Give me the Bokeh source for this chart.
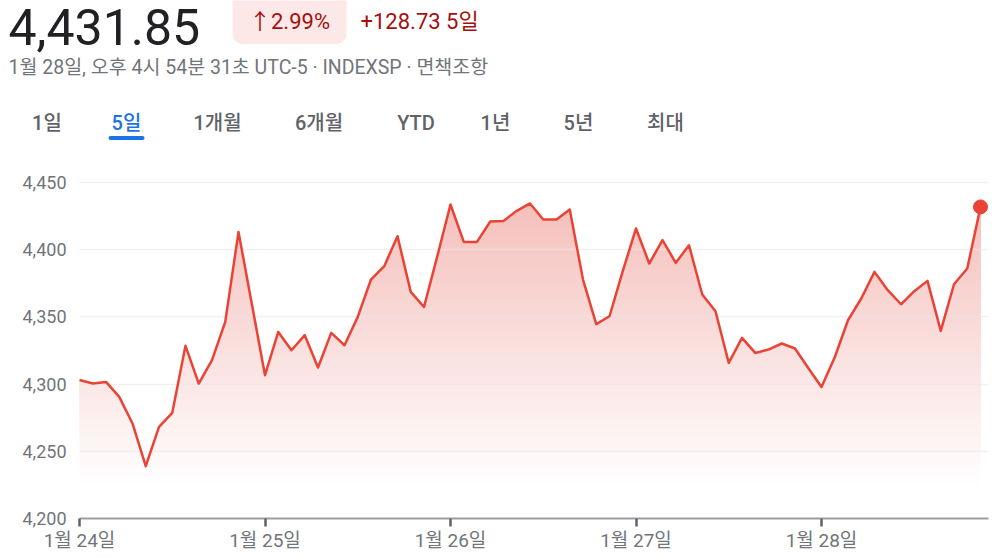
import numpy as np
from bokeh.plotting import figure
from bokeh.layouts import column
from bokeh.models import Range1d, FixedTicker, NumeralTickFormatter, Label, BoxAnnotation
from bokeh.embed import file_html
from bokeh.resources import INLINE

# ---------------- data ----------------
last_price = "4,431.85"
change_pct = "↑2.99%"
change_abs = "+128.73"
period_label = "5일"
timestamp = "1월 28일, 오후 4시 54분 31초 UTC-5 · INDEXSP · 면책조항"
tabs = ["1일", "5일", "1개월", "6개월", "YTD", "1년", "5년", "최대"]
active_tab = "5일"
day_labels = ["1월 24일", "1월 25일", "1월 26일", "1월 27일", "1월 28일"]
points_per_day = 14
prices = [
    4303.1, 4300.4, 4301.6, 4290.5, 4270.7, 4238.9, 4268.2, 4278.6, 4328.5, 4300.4,
    4317.8, 4346.3, 4413.2, 4360.0, 4306.6, 4338.8, 4325.2, 4336.4, 4312.3, 4338.1,
    4328.9, 4350.0, 4377.8, 4387.7, 4410.0, 4368.6, 4357.4, 4395.0, 4433.6, 4405.8,
    4405.8, 4421.0, 4421.4, 4428.9, 4434.4, 4422.5, 4422.5, 4429.9, 4377.8, 4344.6,
    4350.5, 4384.0, 4415.8, 4389.7, 4407.1, 4390.2, 4403.3, 4366.7, 4354.2, 4315.8,
    4334.4, 4323.2, 4325.7, 4330.2, 4326.5, 4312.0, 4297.9, 4320.0, 4347.5, 4363.7,
    4383.5, 4369.9, 4359.4, 4369.1, 4376.8, 4339.6, 4374.3, 4386.0, 4431.85,
]
y_ticks = [4200, 4250, 4300, 4350, 4400, 4450]

# ---------------- layout / style ----------------
W = 992
HEAD_H = 150
CHART_H = 406
B_LEFT, B_RIGHT = 79, 4
FRAME_TOP, FRAME_BOTTOM = 150, 518          # page pixels
B_BOTTOM = HEAD_H + CHART_H - FRAME_BOTTOM
FRAME_W = W - B_LEFT - B_RIGHT
FRAME_H = FRAME_BOTTOM - FRAME_TOP
DAY_PX = 185.5          # pixels per day on the x axis
UNIT_PX = 1.344         # pixels per index point on the y axis

FONT = "Roboto, 'Noto Sans CJK KR', sans-serif"
TAB_FONT = "'Roboto Medium', Roboto, 'Noto Sans CJK KR Medium', 'Noto Sans CJK KR', sans-serif"
RED = "#ea4335"
DARK_RED = "#a50e0e"
GREY = "#70757a"
TAB_GREY = "#5f6368"
BLUE = "#1a73e8"
GRAD_TOP = (244, 190, 186)

# ---------------- header (page-pixel coordinates, y downwards as negative) ----------------
h = figure(width=W, height=HEAD_H, output_backend="svg", toolbar_location=None,
           x_range=Range1d(0, W), y_range=Range1d(-HEAD_H, 0),
           x_axis_type=None, y_axis_type=None,
           min_border_left=0, min_border_right=0, min_border_top=0, min_border_bottom=0)
h.frame_align = False
h.grid.visible = False
h.outline_line_color = None
h.background_fill_color = "white"
h.border_fill_color = "white"


def add_text(txt, ax, ay, size, color, align="left", font=FONT):
    h.add_layout(Label(x=ax, y=-ay, text=txt, text_font=font, text_font_size=f"{size}px",
                       text_color=color, text_align=align, text_baseline="middle"))


def add_box(left, right, top, bottom, color, radius):
    h.add_layout(BoxAnnotation(left=left, right=right, top=-top, bottom=-bottom,
                               fill_color=color, fill_alpha=1, line_color=None,
                               border_radius=radius))


add_text(last_price, 8, 26.5, 50, "#202124")
add_box(232, 346, -12, 43.5, "#fce8e6", 10)
add_text(change_pct, 289, 21, 22, DARK_RED, align="center")
add_text(f"{change_abs} {period_label}", 360, 21, 22, DARK_RED)
add_text(timestamp, 8, 67, 19.5, GREY)

tab_centers = [46.5, 126, 217, 318.5, 415.5, 495, 578, 665]
for t, cx in zip(tabs, tab_centers):
    add_text(t, cx, 122, 20, BLUE if t == active_tab else TAB_GREY, align="center", font=TAB_FONT)
ai = tabs.index(active_tab)
add_box(tab_centers[ai] - 18, tab_centers[ai] + 18, 135.5, 139.5, BLUE, 2)

# ---------------- chart ----------------
p = figure(width=W, height=CHART_H, output_backend="svg", toolbar_location=None,
           x_range=Range1d(0, FRAME_W / DAY_PX),
           y_range=Range1d(y_ticks[0], y_ticks[0] + FRAME_H / UNIT_PX),
           min_border_left=B_LEFT, min_border_right=B_RIGHT,
           min_border_top=0, min_border_bottom=B_BOTTOM)
p.frame_align = False
p.outline_line_color = None
p.background_fill_color = "white"
p.border_fill_color = "white"

x = np.arange(len(prices)) / points_per_day
y = np.array(prices)


def above_level(xs, ys, level):
    """Outline of the region between `level` and the price line (where the line is above it)."""
    px, py = [], []
    for i in range(len(xs)):
        if i > 0:
            y0, y1 = ys[i - 1], ys[i]
            if (y0 - level) * (y1 - level) < 0:
                t = (level - y0) / (y1 - y0)
                px.append(xs[i - 1] + t * (xs[i] - xs[i - 1]))
                py.append(level)
        px.append(xs[i])
        py.append(max(ys[i], level))
    return np.array(px), np.array(py)


# vertical gradient under the line: nested opaque bands, lighter towards the bottom
lo, hi = 4222, 4440
N = 70
levels = np.linspace(lo, hi, N, endpoint=False)
for level in levels:
    f = (level + (hi - lo) / N / 2 - lo) / (hi - lo)
    col = tuple(int(round(255 + (c - 255) * f)) for c in GRAD_TOP)
    gx, gy = above_level(x, y, level)
    p.varea(x=gx, y1=level, y2=gy, fill_color="#%02x%02x%02x" % col)

line_r = p.line(x, y, line_color=RED, line_width=2.5, line_join="round")
dot_r = p.scatter(x[-1:], y[-1:], size=14, color=RED)
line_r.level = "overlay"
dot_r.level = "overlay"

# axes
p.xgrid.visible = False
p.ygrid.ticker = FixedTicker(ticks=y_ticks)
p.ygrid.grid_line_color = "#e6e6e6"
p.ygrid.grid_line_alpha = 0.6
p.ygrid.grid_line_width = 1.5
p.ygrid.level = "guide"

p.yaxis.ticker = FixedTicker(ticks=y_ticks)
p.yaxis.formatter = NumeralTickFormatter(format="0,0")
p.yaxis.axis_line_color = None
p.yaxis.major_tick_line_color = None
p.yaxis.minor_tick_line_color = None
p.yaxis.major_label_standoff = 7
p.yaxis.major_label_text_font = FONT
p.yaxis.major_label_text_font_size = "18px"
p.yaxis.major_label_text_color = GREY

p.xaxis.ticker = FixedTicker(ticks=list(range(len(day_labels))))
p.xaxis.major_label_overrides = {i: lab for i, lab in enumerate(day_labels)}
p.xaxis.axis_line_color = "#9aa0a6"
p.xaxis.axis_line_width = 2
p.xaxis.major_tick_line_color = TAB_GREY
p.xaxis.major_tick_line_width = 2.5
p.xaxis.major_tick_in = 0
p.xaxis.major_tick_out = 8
p.xaxis.minor_tick_line_color = None
p.xaxis.major_label_standoff = 2
p.xaxis.major_label_text_font = FONT
p.xaxis.major_label_text_font_size = "19px"
p.xaxis.major_label_text_color = GREY

layout = column(h, p, spacing=0)
open("out.html", "w").write(file_html(layout, INLINE))
